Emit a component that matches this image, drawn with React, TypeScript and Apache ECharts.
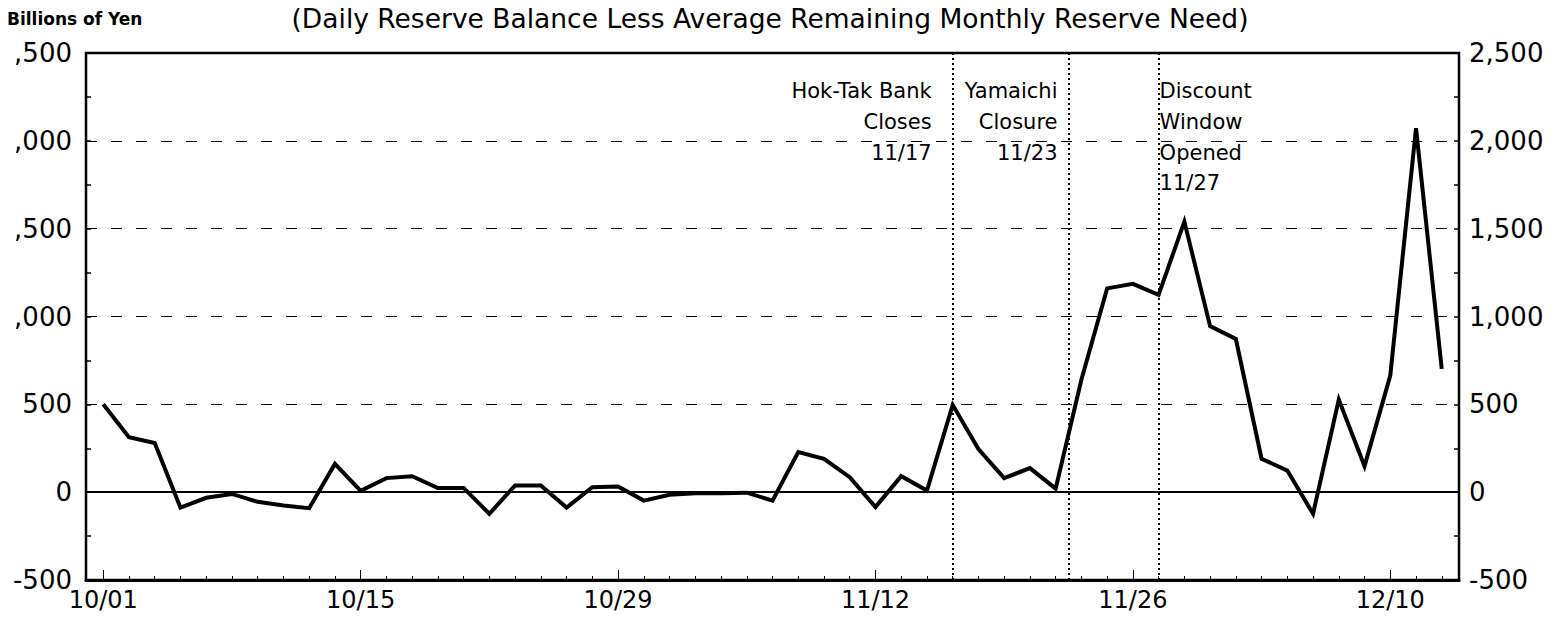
import React, { useEffect, useRef } from "react";
import * as echarts from "echarts";

// Business days, 1 Oct 1997 – 12 Dec 1997
const dates = [
  "10/01", "10/02", "10/03", "10/06", "10/07", "10/08", "10/09", "10/10", "10/13", "10/14",
  "10/15", "10/16", "10/17", "10/20", "10/21", "10/22", "10/23", "10/24", "10/27", "10/28",
  "10/29", "10/30", "10/31", "11/03", "11/04", "11/05", "11/06", "11/07", "11/10", "11/11",
  "11/12", "11/13", "11/14", "11/17", "11/18", "11/19", "11/20", "11/21", "11/24", "11/25",
  "11/26", "11/27", "11/28", "12/01", "12/02", "12/03", "12/04", "12/05", "12/08", "12/09",
  "12/10", "12/11", "12/12",
];

// Daily reserve balance less average remaining monthly reserve need (billions of yen)
const reserveSurplus = [
  500, 313, 280, -88, -32, -10, -55, -76, -91, 161,
  8, 80, 91, 24, 24, -123, 38, 38, -88, 28,
  32, -48, -15, -6, -6, -3, -48, 228, 190, 85,
  -85, 91, 9, 497, 246, 80, 137, 20, 640, 1160,
  1186, 1123, 1540, 945, 872, 190, 123, -123, 527, 148,
  664, 2072, 702,
];

const xLabelIndices = [0, 10, 20, 30, 40, 50];
const yTickValues = [-500, 0, 500, 1000, 1500, 2000, 2500];
const leftTickLabels = ["-500", "0", "500", ",000", ",500", ",000", ",500"];
const rightTickLabels = ["-500", "0", "500", "1,000", "1,500", "2,000", "2,500"];

// Event markers (position in business-day index; 11/23 falls on a Sunday)
const eventIndex = [33, 37.5, 41];
const eventText = [
  "Hok-Tak Bank\nCloses\n11/17",
  "Yamaichi\nClosure\n11/23",
  "Discount\nWindow\nOpened\n11/27",
];
const eventAlign = ["right", "right", "left"];
const eventOffset = [-21, -11, 1];

const titleText = "(Daily Reserve Balance Less Average Remaining Monthly Reserve Need)";
const unitText = "Billions of Yen";

const FONT = "'DejaVu Sans', sans-serif";

export default function App() {
  const ref = useRef<HTMLDivElement>(null);

  useEffect(() => {
    if (!ref.current) return;
    const chart = echarts.init(ref.current, undefined, { renderer: "svg" });
    const xMin = -0.67;
    const xMax = 52.67;

    const yAxisBase = (position: string, labels: string[], margin: number, grid: boolean) => ({
      type: "value",
      min: -500,
      max: 2500,
      interval: 500,
      position,
      axisLine: { show: true, onZero: false, lineStyle: { color: "#000", width: 2 } },
      axisTick: { show: true, inside: true, length: 5, lineStyle: { color: "#000", width: 1.5 } },
      minorTick: { show: true, splitNumber: 2, length: 5, lineStyle: { color: "#000", width: 1.5 } },
      axisLabel: {
        formatter: (v: number) => labels[yTickValues.indexOf(v)] ?? "",
        color: "#000",
        fontFamily: FONT,
        fontSize: 26,
        margin,
      },
      splitLine: grid
        ? { show: true, lineStyle: { type: [11, 14], color: "#000", width: 1.2 } }
        : { show: false },
    });

    const option: any = {
      animation: false,
      backgroundColor: "#ffffff",
      grid: {
        left: 86,
        right: 103,
        top: 53,
        bottom: 41,
        show: true,
        borderColor: "#000",
        borderWidth: 2.5,
        backgroundColor: "transparent",
      },
      xAxis: [
        {
          type: "value",
          min: xMin,
          max: xMax,
          position: "bottom",
          axisLine: { show: true, onZero: false, lineStyle: { color: "#000", width: 3 } },
          axisTick: {
            show: true,
            inside: true,
            length: 10,
            customValues: xLabelIndices,
            lineStyle: { color: "#000", width: 1 },
          },
          axisLabel: {
            customValues: xLabelIndices,
            formatter: (v: number) => dates[Math.round(v)] ?? "",
            color: "#000",
            fontFamily: FONT,
            fontSize: 24,
            margin: 8,
          },
          splitLine: { show: false },
        },
        {
          type: "value",
          min: xMin,
          max: xMax,
          position: "bottom",
          axisLine: { show: false, onZero: false },
          axisTick: {
            show: true,
            inside: true,
            length: 4,
            customValues: dates.map((_, i) => i),
            lineStyle: { color: "#000", width: 1 },
          },
          axisLabel: { show: false },
          splitLine: { show: false },
        },
      ],
      yAxis: [
        yAxisBase("left", leftTickLabels, 14, true),
        yAxisBase("right", rightTickLabels, 10, false),
      ],
      series: [
        {
          type: "line",
          xAxisIndex: 0,
          yAxisIndex: 0,
          data: reserveSurplus.map((v, i) => [i, v]),
          symbol: "none",
          lineStyle: { color: "#000", width: 4, join: "miter" },
          markLine: {
            silent: true,
            symbol: ["none", "none"],
            label: { show: false },
            data: [
              { yAxis: 0, lineStyle: { type: "solid", color: "#000", width: 2 } },
              ...eventIndex.map((x) => ({
                xAxis: x,
                lineStyle: { type: [2, 3], color: "#000", width: 2 },
              })),
            ],
          },
        },
      ],
    };

    chart.setOption(option);

    const graphics: any[] = [
      {
        type: "text",
        x: 770,
        y: 18,
        style: {
          text: titleText,
          fill: "#000",
          font: `26.5px ${FONT}`,
          textAlign: "center",
          textVerticalAlign: "middle",
        },
      },
      {
        type: "text",
        x: 7,
        y: 19,
        style: {
          text: unitText,
          fill: "#000",
          font: `bold 17px ${FONT}`,
          textAlign: "left",
          textVerticalAlign: "middle",
        },
      },
    ];
    eventIndex.forEach((idx, k) => {
      const px = chart.convertToPixel({ xAxisIndex: 0 }, idx) as number;
      graphics.push({
        type: "text",
        x: px + eventOffset[k],
        y: 76,
        style: {
          text: eventText[k],
          fill: "#000",
          font: `21px ${FONT}`,
          lineHeight: 30.7,
          textAlign: eventAlign[k],
          textVerticalAlign: "top",
        },
      });
    });
    chart.setOption({ graphic: graphics });

    return () => chart.dispose();
  }, []);

  return (
    <div
      ref={ref}
      style={{ position: "fixed", left: 0, top: 0, width: 1562, height: 621, background: "#fff" }}
    />
  );
}
